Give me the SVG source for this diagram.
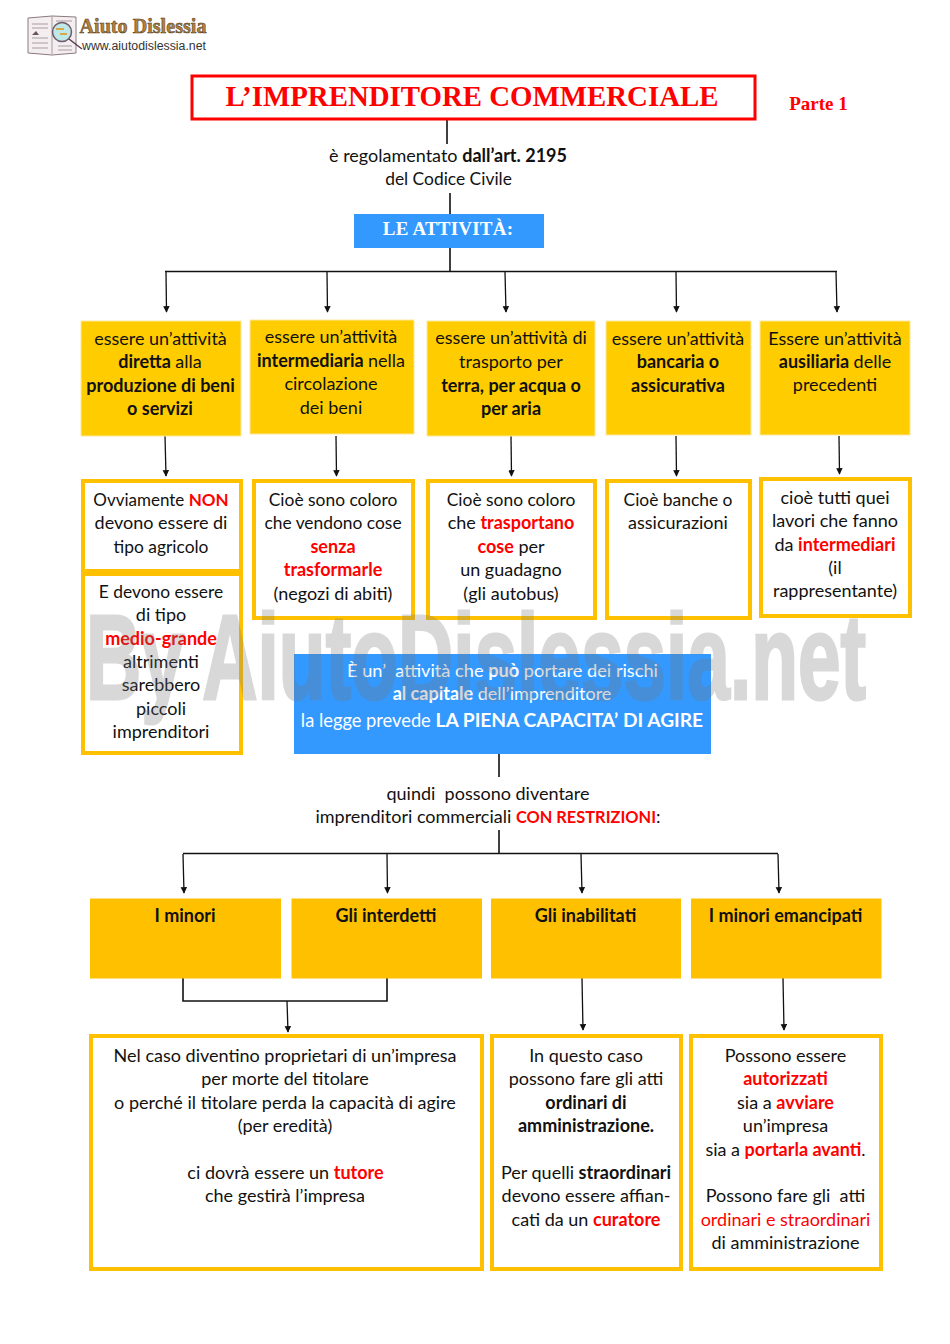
<svg xmlns="http://www.w3.org/2000/svg" width="950" height="1344" viewBox="0 0 950 1344">
<style>
text{font-family:"Lato","Carlito","Liberation Sans",sans-serif;font-size:18px;fill:#111;text-anchor:middle}
.n{font-size:17.4px}
.b{font-weight:700}
.r{fill:#f00;font-weight:700}
.rn{fill:#f00}
.w{fill:#fff}
.y{fill:#ffcc00;stroke:#fbe9a0;stroke-width:1}
.o{fill:#ffc000}
.f{fill:#fff;stroke:#ffc000;stroke-width:4}
.bl{fill:#3399ff}
.c{fill:none;stroke:#111;stroke-width:1.6}
.a{fill:none;stroke:#111;stroke-width:1.3;marker-end:url(#ah)}
.s{font-family:"Liberation Serif",serif;font-weight:700}
</style>
<defs><marker id="ah" markerWidth="6" markerHeight="6" refX="4.5" refY="2.5" orient="auto"><path d="M0 0L5 2.5L0 5z" fill="#111"/></marker></defs>
<rect width="950" height="1344" fill="#fff"/>
<g id="logo">
<path d="M28 18L52 16L76 17V53L52 55L28 53z" fill="#f5eef0" stroke="#8a7a80" stroke-width="1"/>
<path d="M52 16V54M32 24H48M32 28H48M32 38H48M32 43H48M32 48H48M58 46H72M58 50H72M56 21H72" stroke="#a89ca0" stroke-width="1" fill="none"/>
<path d="M32 35l4-4 3 4z" fill="#6a5560"/>
<circle cx="62" cy="32" r="9.500" fill="#bfe8e8" stroke="#6f5a68" stroke-width="1.500"/>
<path d="M56 29h8M60 34h7" stroke="#d9a84a" stroke-width="2"/>
<path d="M69 39L82 49" stroke="#5a3a50" stroke-width="1.500"/>
<text x="143" y="33" style="font-family:'Liberation Serif',serif;font-size:21px;font-weight:700;fill:#b5803a;stroke:#4a3418;stroke-width:.5" textLength="127" lengthAdjust="spacingAndGlyphs">Aiuto Dislessia</text>
<text x="144" y="50" style="font-family:'Liberation Sans',sans-serif;font-size:12px;fill:#333" textLength="124" lengthAdjust="spacingAndGlyphs">www.aiutodislessia.net</text>
</g>
<g id="connectors">
<path class="c" d="M447 120V144M450 193V214M450 247V271M165 271.500H837"/>
<path class="a" d="M166 272L166.500 312"/><path class="a" d="M327 272L327.500 312"/><path class="a" d="M505 272L506 312"/><path class="a" d="M676 272L676.500 312"/><path class="a" d="M836 272L837 312"/>
<path class="a" d="M165 436L166 476"/><path class="a" d="M336 436L336.500 476"/><path class="a" d="M511 436L511.500 476"/><path class="a" d="M676 436L676.500 476"/><path class="a" d="M839 436L839.500 474"/>
<path class="c" d="M499 753V777M499 830V853M183 853.500H778"/>
<path class="a" d="M183 854L184 893"/><path class="a" d="M387 854L387.500 893"/><path class="a" d="M581 854L582 893"/><path class="a" d="M778 854L779 893"/>
<path class="c" d="M183 978V1001H387V978"/>
<path class="a" d="M287 1001L288 1032"/><path class="a" d="M582 978L583 1030"/><path class="a" d="M783 978L784 1030"/>
</g>
<g id="title"><rect x="192" y="76" width="563" height="43" fill="#fff" stroke="#f00" stroke-width="3"/>
<text x="472" y="106" class="s" style="font-size:29px;fill:#f00" textLength="493" lengthAdjust="spacingAndGlyphs">L’IMPRENDITORE COMMERCIALE</text></g>
<g id="parte"><text x="818.500" y="110" class="s" style="font-size:19px;fill:#f00">Parte 1</text></g>
<g id="regolamentato"><text x="448" y="162">è regolamentato <tspan class="b">dall’art. 2195</tspan></text><text x="448.500" y="185" class="n">del Codice Civile</text></g>
<g id="attivita"><rect class="bl" x="354" y="214" width="190" height="34"/><text x="448" y="235" class="s w" style="font-size:19px;letter-spacing:.2px">LE ATTIVITÀ:</text></g>
<g id="a1"><rect class="y" x="81" y="321" width="160" height="115"/><text x="160.500" y="345">essere un’attività</text><text x="160" y="368" class="b">diretta <tspan font-weight="400">alla</tspan></text><text x="160.500" y="391.500" class="b">produzione di beni</text><text x="160" y="415" class="b">o servizi</text></g>
<g id="a2"><rect class="y" x="250" y="320" width="164" height="114"/><text x="331" y="343">essere un’attività</text><text x="331" y="367" class="b">intermediaria <tspan font-weight="400">nella</tspan></text><text x="331" y="390">circolazione</text><text x="331" y="413.500">dei beni</text></g>
<g id="a3"><rect class="y" x="427" y="321" width="168" height="115"/><text x="511" y="344">essere un’attività di</text><text x="511" y="368">trasporto per</text><text x="511" y="391.500" class="b">terra, per acqua o</text><text x="511" y="414.500" class="b">per aria</text></g>
<g id="a4"><rect class="y" x="606" y="321" width="145" height="114"/><text x="678" y="345">essere un’attività</text><text x="678" y="368" class="b">bancaria o</text><text x="678" y="391.500" class="b">assicurativa</text></g>
<g id="a5"><rect class="y" x="760" y="321" width="150" height="114"/><text x="835" y="345">Essere un’attività</text><text x="835" y="368" class="b">ausiliaria <tspan font-weight="400">delle</tspan></text><text x="835" y="391">precedenti</text></g>
<g id="b1"><rect class="f" x="83" y="481" width="158" height="90"/><text x="161" y="506" style="font-size:17px">Ovviamente <tspan class="r">NON</tspan></text><text x="161" y="529">devono essere di</text><text x="161" y="553" class="n">tipo agricolo</text></g>
<g id="b1b"><rect class="f" x="83" y="574" width="158" height="179"/><text x="161" y="598" class="n">E devono essere</text><text x="161" y="621">di tipo</text><text x="161" y="645" class="r">medio-grande</text><text x="161" y="668">altrimenti</text><text x="161" y="691">sarebbero</text><text x="161" y="715">piccoli</text><text x="161" y="738">imprenditori</text></g>
<g id="b2"><rect class="f" x="254" y="481" width="159" height="137"/><text x="333" y="506" class="n">Cioè sono coloro</text><text x="333" y="529" class="n">che vendono cose</text><text x="333" y="553" class="r">senza</text><text x="333" y="576" class="r">trasformarle</text><text x="333" y="599.500">(negozi di abiti)</text></g>
<g id="b3"><rect class="f" x="428" y="481" width="167" height="137"/><text x="511" y="506" class="n">Cioè sono coloro</text><text x="511" y="529">che <tspan class="r">trasportano</tspan></text><text x="511" y="553"><tspan class="r">cose</tspan> per</text><text x="511" y="576">un guadagno</text><text x="511" y="599.500">(gli autobus)</text></g>
<g id="b4"><rect class="f" x="607" y="481" width="143" height="137"/><text x="678" y="506" class="n">Cioè banche o</text><text x="678" y="529">assicurazioni</text></g>
<g id="b5"><rect class="f" x="761" y="479" width="149" height="137"/><text x="835" y="504">cioè tutti quei</text><text x="835" y="527">lavori che fanno</text><text x="835" y="550.500">da <tspan class="r">intermediari</tspan></text><text x="835" y="574">(il</text><text x="835" y="597">rappresentante)</text></g>
<g id="rischi"><rect class="bl" x="294" y="654" width="417" height="100"/><text x="502.500" y="677" class="w" style="font-size:18.200px">È un’&#160; attività che <tspan font-weight="700">può</tspan> portare dei rischi</text><text x="502" y="700" class="w"><tspan font-weight="700">al capitale</tspan> dell’imprenditore</text><text x="502" y="726.500" class="w" style="font-size:18.300px">la legge prevede <tspan font-weight="700" style="font-size:19.200px">LA PIENA CAPACITA’ DI AGIRE</tspan></text></g>
<g id="quindi"><text x="488" y="800">quindi&#160; possono diventare</text><text x="488" y="823">imprenditori commerciali <tspan class="r" style="font-size:16.400px">CON RESTRIZIONI</tspan>:</text></g>
<g id="m1"><rect class="o" x="90" y="898.500" width="191" height="80"/><text x="185" y="921.500" class="b">I minori</text></g>
<g id="m2"><rect class="o" x="291.500" y="898.500" width="190.500" height="80"/><text x="386" y="921.500" class="b">Gli interdetti</text></g>
<g id="m3"><rect class="o" x="491" y="898.500" width="190" height="80"/><text x="585.500" y="921.500" class="b">Gli inabilitati</text></g>
<g id="m4"><rect class="o" x="691" y="898.500" width="190.500" height="80"/><text x="785.500" y="921.500" class="b">I minori emancipati</text></g>
<g id="d1"><rect class="f" x="91" y="1036" width="391" height="233"/><text x="285" y="1062">Nel caso diventino proprietari di un’impresa</text><text x="285" y="1085">per morte del titolare</text><text x="285" y="1108.500">o perché il titolare perda la capacità di agire</text><text x="285" y="1132">(per eredità)</text><text x="285.500" y="1179">ci dovrà essere un <tspan class="r">tutore</tspan></text><text x="285" y="1202">che gestirà l’impresa</text></g>
<g id="d2"><rect class="f" x="492" y="1036" width="189" height="233"/><text x="586" y="1062">In questo caso</text><text x="586" y="1085">possono fare gli atti</text><text x="586" y="1108.500" class="b">ordinari di</text><text x="586" y="1132" class="b">amministrazione.</text><text x="586" y="1179">Per quelli <tspan class="b">straordinari</tspan></text><text x="586" y="1202">devono essere affian-</text><text x="586" y="1225.500">cati da un <tspan class="r">curatore</tspan></text></g>
<g id="d3"><rect class="f" x="691" y="1036" width="190" height="233"/><text x="785.500" y="1062">Possono essere</text><text x="785.500" y="1085" class="r">autorizzati</text><text x="785.500" y="1108.500">sia a <tspan class="r">avviare</tspan></text><text x="785.500" y="1132">un’impresa</text><text x="785.500" y="1155.500">sia a <tspan class="r">portarla avanti</tspan>.</text><text x="785.500" y="1202">Possono fare gli&#160; atti</text><text x="785.500" y="1225.500" class="rn">ordinari e straordinari</text><text x="785.500" y="1248.500">di amministrazione</text></g>
<g id="watermark"><text x="476" y="699" textLength="780" lengthAdjust="spacingAndGlyphs" style="font-family:'Liberation Sans',sans-serif;font-weight:700;font-size:120px;fill:#777;stroke:#777;stroke-width:3;opacity:.28">By AiutoDislessia.net</text></g>
</svg>
